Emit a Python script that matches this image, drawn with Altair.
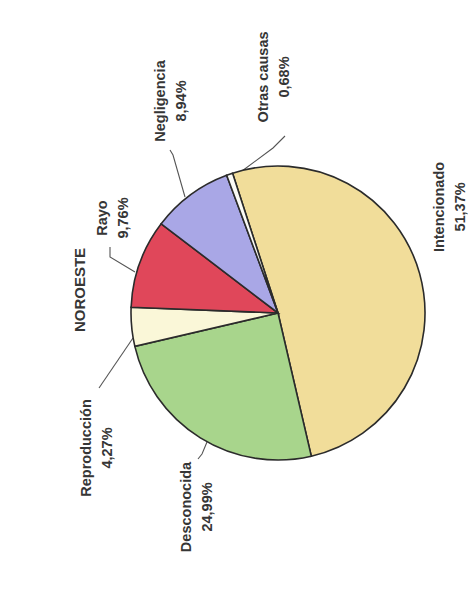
import math
import altair as alt
import pandas as pd

# ---- data ----
categories = ["Intencionado", "Desconocida", "Reproducción", "Rayo", "Negligencia", "Otras causas"]
percent_values = [51.37, 24.99, 4.27, 9.76, 8.94, 0.68]
percent_labels = ["51,37%", "24,99%", "4,27%", "9,76%", "8,94%", "0,68%"]
slice_colors = ["#F1DD9A", "#A8D58C", "#FAF7D8", "#E0475A", "#A9A7E6", "#FBFBF6"]
title_text = "NOROESTE"

# ---- layout ----
START_DEG = -18.0
W, H = 340, 426
PAD = {"left": 100, "top": 92, "right": 20, "bottom": 60}
R = 147
CX, CY = W / 2, H / 2
TEXT_COLOR = "#363636"
FONT = "Liberation Sans"
LINE_H = 21

# label block centre, as offset (px) from the pie centre
label_layout = {
    "Intencionado": (172, -106),
    "Desconocida": (-81, 194),
    "Reproducción": (-181, 135),
    "Rayo": (-165, -95),
    "Negligencia": (-107, -212),
    "Otras causas": (-4, -236),
}
title_offset = (-198, -23)
# leader lines: points as offsets (px) from the pie centre
leader_layout = {
    "Desconocida": [(-71, 129), (-76, 141), (-80, 146)],
    "Reproducción": [(-145, 25), (-179, 75)],
    "Rayo": [(-143, -41), (-168, -56), (-168, -66)],
    "Negligencia": [(-93, -116), (-105, -158), (-108, -163)],
    "Otras causas": [(-36, -142), (-5, -165), (7, -177)],
}

total = sum(percent_values)
start_rad = math.radians(START_DEG)

rows = []
for i, (c, v, lab) in enumerate(zip(categories, percent_values, percent_labels)):
    dx, dy = label_layout[c]
    rows.append({
        "idx": i, "category": c, "value": v,
        "label": c + "\n" + lab,
        "lt": math.atan2(dx, -dy), "lr": math.hypot(dx, dy),
    })
df = pd.DataFrame(rows)

lrows = []
for c, pts in leader_layout.items():
    for k, (dx, dy) in enumerate(pts):
        lrows.append({"category": c, "k": k, "x": CX + dx, "y": CY + dy})
ldf = pd.DataFrame(lrows)

base = alt.Chart(df)

pie = base.mark_arc(outerRadius=R, stroke="#2b2b2b", strokeWidth=1.6).encode(
    theta=alt.Theta("value:Q", stack=True,
                    scale=alt.Scale(domain=[0, total], range=[start_rad, start_rad + 2 * math.pi])),
    color=alt.Color("category:N", scale=alt.Scale(domain=categories, range=slice_colors), legend=None),
    order=alt.Order("idx:Q"),
)

labels = base.mark_text(
    angle=270, align="center", baseline="middle", lineBreak="\n", lineHeight=LINE_H,
    dy=-LINE_H / 2,
    font=FONT, fontSize=14.5, fontWeight="bold", color=TEXT_COLOR,
).encode(
    theta=alt.Theta("lt:Q", scale=None, stack=None),
    radius=alt.Radius("lr:Q", scale=None),
    text="label:N",
)

leaders = alt.Chart(ldf).mark_line(color="#555555", strokeWidth=1.1).encode(
    x=alt.X("x:Q", scale=None, axis=None),
    y=alt.Y("y:Q", scale=None, axis=None),
    detail="category:N",
    order="k:Q",
)

title = alt.Chart(pd.DataFrame({"t": [title_text]})).mark_text(
    angle=270, align="center", baseline="middle",
    font=FONT, fontSize=15, fontWeight="bold", color=TEXT_COLOR,
).encode(x=alt.value(CX + title_offset[0]), y=alt.value(CY + title_offset[1]), text="t:N")

chart = alt.layer(leaders, pie, labels, title).resolve_scale(
    theta="independent", radius="independent"
).properties(
    width=W, height=H, padding=PAD,
    autosize=alt.AutoSizeParams(type="none"),
    background="white",
).configure_view(stroke=None)

chart.save("out.html", embed_options={"renderer": "svg", "actions": False})
